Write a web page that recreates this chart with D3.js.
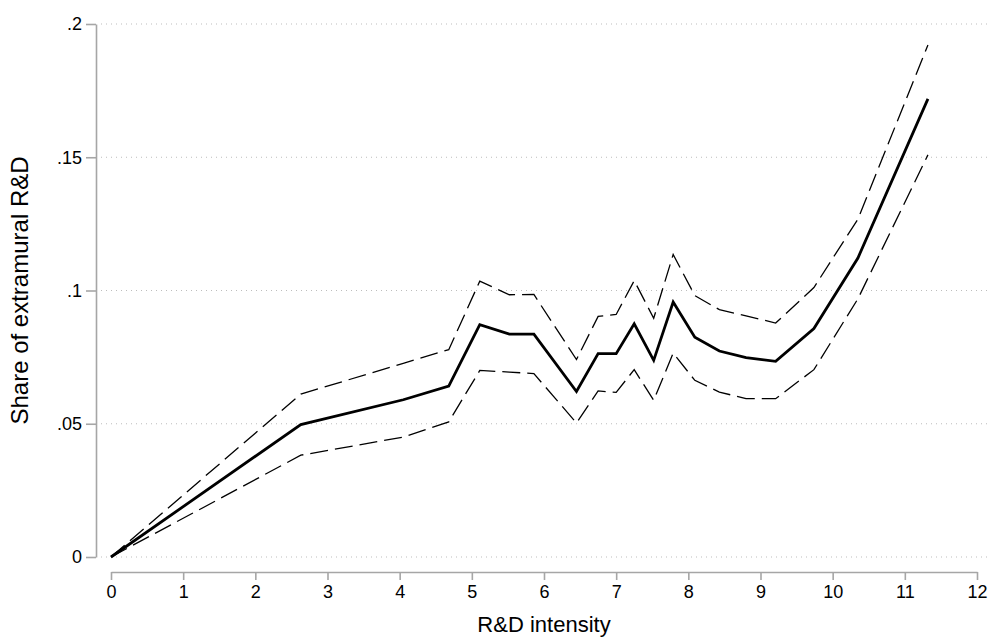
<!DOCTYPE html>
<html>
<head>
<meta charset="utf-8">
<script src="https://cdn.jsdelivr.net/npm/d3@7"></script>
<style>
  body { margin: 0; background: #fff; }
  text { font-family: "Liberation Sans", Arial, sans-serif; fill: #000; }
</style>
</head>
<body>
<div id="chart"></div>
<script>
/* Share of extramural R&D by R&D intensity, with confidence band */

// R&D intensity (x) at each estimated point
const intensity = [0, 2.63, 4.05, 4.68, 5.11, 5.52, 5.86, 6.45, 6.75, 7.0,
    7.25, 7.52, 7.79, 8.09, 8.43, 8.8, 9.21, 9.74, 10.35, 11.32];

// estimated share of extramural R&D
const share = [0, 0.0497, 0.0590, 0.0641, 0.0872, 0.0836, 0.0836, 0.0621, 0.0763, 0.0763,
    0.0875, 0.0738, 0.0957, 0.0825, 0.0773, 0.0748, 0.0734, 0.0857, 0.1122, 0.1719];

// upper and lower confidence bounds
const upper = [0, 0.0611, 0.0727, 0.0778, 0.1035, 0.0984, 0.0985, 0.0741, 0.0903, 0.0910,
    0.1037, 0.0896, 0.1135, 0.0981, 0.0928, 0.0905, 0.0878, 0.1011, 0.1268, 0.1921];
const lower = [0, 0.0382, 0.0450, 0.0507, 0.0700, 0.0694, 0.0688, 0.0503, 0.0623, 0.0618,
    0.0703, 0.0588, 0.0765, 0.0663, 0.0619, 0.0594, 0.0594, 0.0703, 0.0969, 0.1509];

const xTicks = [0, 1, 2, 3, 4, 5, 6, 7, 8, 9, 10, 11, 12];
const yTicks = [0, 0.05, 0.1, 0.15, 0.2];
const yTickLabels = ["0", ".05", ".1", ".15", ".2"];

const width = 992,
    height = 637;

const svg = d3.select("#chart")
    .append("svg")
    .attr("width", width)
    .attr("height", height)
    .attr("viewBox", [0, 0, width, height]);

let x = d3.scaleLinear()
    .domain([0, 12])
    .range([111, 977]);

let y = d3.scaleLinear()
    .domain([0, 0.2])
    .range([557, 24]);

/* gridlines */
svg.append("g")
    .selectAll("line")
    .data(yTicks)
    .join("line")
    .attr("x1", 101)
    .attr("x2", 990)
    .attr("y1", d => y(d))
    .attr("y2", d => y(d))
    .attr("stroke", "#bdbdbd")
    .attr("stroke-width", 1)
    .attr("stroke-dasharray", "1,4");

/* axes */
const yAxis = svg.append("g")
    .attr("transform", "translate(96,0)")
    .call(d3.axisLeft(y)
        .tickValues(yTicks)
        .tickFormat((d, i) => yTickLabels[i])
        .tickSize(10)
        .tickSizeOuter(0)
        .tickPadding(4));

const xAxis = svg.append("g")
    .attr("transform", "translate(0,572)")
    .call(d3.axisBottom(x)
        .tickValues(xTicks)
        .tickFormat(d3.format("d"))
        .tickSize(8)
        .tickSizeOuter(0)
        .tickPadding(5));

for (let g of [xAxis, yAxis]) {
    g.select(".domain").attr("stroke", "#a6a6a6").attr("stroke-width", 1.6);
    g.selectAll(".tick line").attr("stroke", "#a6a6a6").attr("stroke-width", 1.6);
    g.selectAll(".tick text").attr("font-size", 18).attr("fill", "#000");
}

/* labels */
svg.append("text")
    .attr("text-anchor", "middle")
    .attr("x", (x(0) + x(12)) / 2)
    .attr("y", 632)
    .attr("font-size", 22)
    .text("R&D intensity");

svg.append("text")
    .attr("text-anchor", "middle")
    .attr("transform", `translate(28,${(y(0) + y(0.2)) / 2}) rotate(-90)`)
    .attr("font-size", 24)
    .text("Share of extramural R&D");

/* lines */
let line = d3.line()
    .x(d => x(d[0]))
    .y(d => y(d[1]));

const bands = [
    { values: upper, width: 1.3, dash: "18,7" },
    { values: lower, width: 1.3, dash: "18,7" },
    { values: share, width: 2.8, dash: null }
];

for (let b of bands) {
    svg.append("path")
        .datum(intensity.map((v, i) => [v, b.values[i]]))
        .attr("d", line)
        .attr("fill", "none")
        .attr("stroke", "#000")
        .attr("stroke-width", b.width)
        .attr("stroke-linejoin", "miter")
        .attr("stroke-dasharray", b.dash);
}
</script>
</body>
</html>
